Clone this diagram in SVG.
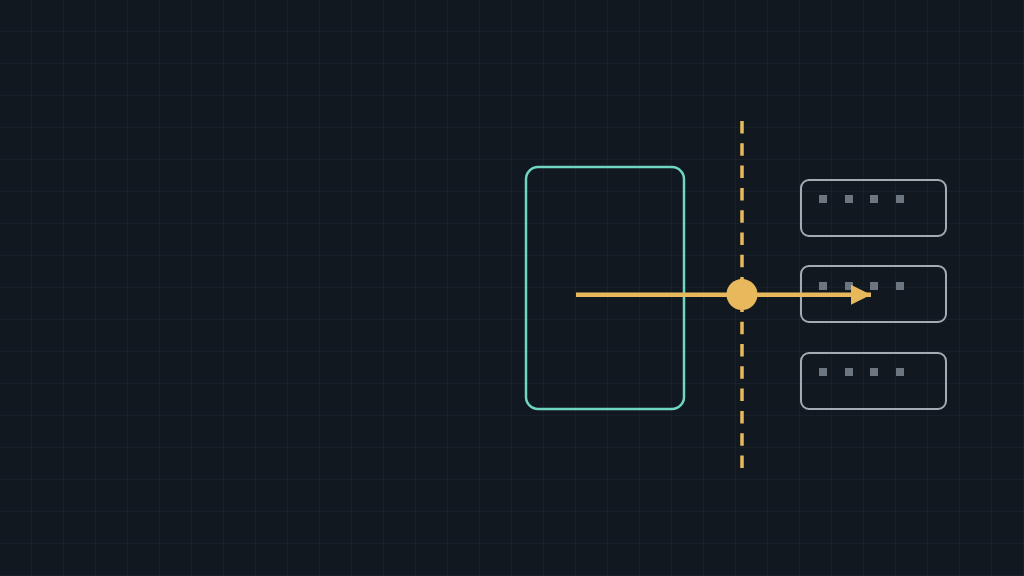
<svg xmlns="http://www.w3.org/2000/svg" width="1024" height="576" viewBox="0 0 1024 576">
  <defs>
    <pattern id="grid" width="32" height="32" patternUnits="userSpaceOnUse">
      <path d="M32 0V32M0 32H32" fill="none" stroke="#1c2731" stroke-width="1"/>
    </pattern>
    <marker id="arrow" markerWidth="20" markerHeight="20" refX="20" refY="10" orient="auto" markerUnits="userSpaceOnUse">
      <path d="M0 0L20 10L0 20Z" fill="#e8b95c"/>
    </marker>
  </defs>
  <style>
    .slot{fill:none;stroke:#a3abb3;stroke-width:2}
    .dot{fill:#6b7680}
    .yellow{stroke:#e8b95c}
  </style>
  <rect width="1024" height="576" fill="#11181f"/>
  <rect width="1024" height="576" fill="url(#grid)"/>

  <g id="container">
    <rect x="526" y="167" width="158" height="242" rx="12" fill="none" stroke="#6fd6c2" stroke-width="2.5"/>
  </g>

  <g id="boundary">
    <line x1="742" y1="121" x2="742" y2="470" class="yellow" stroke-width="3.5" stroke-dasharray="12.5 9.8"/>
  </g>

  <g id="slot1">
    <rect class="slot" x="801" y="180" width="145" height="56" rx="8"/>
    <rect class="dot" x="819" y="195" width="8" height="8"/>
    <rect class="dot" x="845" y="195" width="8" height="8"/>
    <rect class="dot" x="870" y="195" width="8" height="8"/>
    <rect class="dot" x="896" y="195" width="8" height="8"/>
  </g>
  <g id="slot2">
    <rect class="slot" x="801" y="266" width="145" height="56" rx="8"/>
    <rect class="dot" x="819" y="282" width="8" height="8"/>
    <rect class="dot" x="845" y="282" width="8" height="8"/>
    <rect class="dot" x="870" y="282" width="8" height="8"/>
    <rect class="dot" x="896" y="282" width="8" height="8"/>
  </g>
  <g id="slot3">
    <rect class="slot" x="801" y="353" width="145" height="56" rx="8"/>
    <rect class="dot" x="819" y="368" width="8" height="8"/>
    <rect class="dot" x="845" y="368" width="8" height="8"/>
    <rect class="dot" x="870" y="368" width="8" height="8"/>
    <rect class="dot" x="896" y="368" width="8" height="8"/>
  </g>

  <g id="connectors">
    <line x1="576" y1="294.8" x2="871" y2="294.8" class="yellow" stroke-width="4.5" marker-end="url(#arrow)"/>
  </g>

  <g id="junction">
    <circle cx="742" cy="294.5" r="15.5" fill="#e8b95c"/>
  </g>
</svg>
